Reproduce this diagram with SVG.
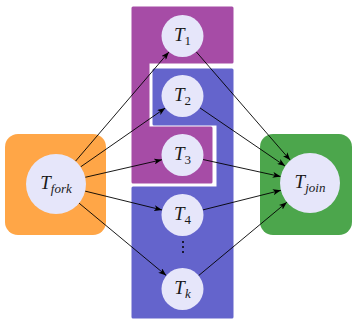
<svg xmlns="http://www.w3.org/2000/svg" width="352" height="320" viewBox="0 0 352 320">
<style>
.n{fill:#E6E6FA;stroke:none}
.t{font-family:"Liberation Serif","DejaVu Serif",serif;font-style:italic;font-size:19px;fill:#1a1a1a;text-anchor:middle}
.s{font-size:13px}
.d{font-style:normal}
.e{stroke:#000;stroke-width:0.9;fill:none;marker-end:url(#ah)}
</style>
<defs>
<marker id="ah" markerWidth="8" markerHeight="6" refX="8" refY="3" orient="auto" markerUnits="userSpaceOnUse">
<path d="M0,0 L8,3 L0,6 L2,3 z" fill="#000"/>
</marker>
</defs>
<g id="groups">
<rect id="fork-box" x="5" y="134" width="101" height="101" rx="13" fill="#FFA647"/>
<rect id="join-box" x="260" y="134" width="92" height="101" rx="13" fill="#4CA64C"/>
<path id="purple-box" d="M133,8 L232,8 L232,62 L148,62 L148,128 L211,128 L211,182 L133,182 Z" fill="#A64CA6" stroke="#A64CA6" stroke-width="3" stroke-linejoin="round"/>
<path id="blue-box" d="M154,70 L232,70 L232,317 L133,317 L133,188 L218,188 L218,124 L154,124 Z" fill="#6464CC" stroke="#6464CC" stroke-width="3" stroke-linejoin="round"/>
</g>
<g id="connectors">
<line class="e" x1="75.5" y1="161.2" x2="168.9" y2="52.0"/>
<line class="e" x1="80.6" y1="166.9" x2="165.3" y2="108.0"/>
<line class="e" x1="85.2" y1="177.3" x2="162.0" y2="159.7"/>
<line class="e" x1="85.1" y1="191.1" x2="162.1" y2="210.0"/>
<line class="e" x1="79.1" y1="203.2" x2="166.3" y2="275.6"/>
<line class="e" x1="196.3" y1="51.9" x2="290.3" y2="160.3"/>
<line class="e" x1="199.8" y1="107.8" x2="285.2" y2="166.1"/>
<line class="e" x1="203.0" y1="159.5" x2="280.7" y2="176.6"/>
<line class="e" x1="202.9" y1="209.9" x2="280.9" y2="190.3"/>
<line class="e" x1="198.6" y1="275.6" x2="286.9" y2="202.2"/>
</g>
<g id="fork"><circle class="n" cx="56" cy="184" r="30"/><text class="t" x="56" y="189">T<tspan class="s" dy="4">fork</tspan></text></g>
<g id="join"><circle class="n" cx="310" cy="183" r="30"/><text class="t" x="310" y="188">T<tspan class="s" dy="4">join</tspan></text></g>
<g id="t1"><circle class="n" cx="182.5" cy="36" r="21"/><text class="t" x="182.5" y="41">T<tspan class="s d" dy="4">1</tspan></text></g>
<g id="t2"><circle class="n" cx="182.5" cy="96" r="21"/><text class="t" x="182.5" y="101">T<tspan class="s d" dy="4">2</tspan></text></g>
<g id="t3"><circle class="n" cx="182.5" cy="155" r="21"/><text class="t" x="182.5" y="160">T<tspan class="s d" dy="4">3</tspan></text></g>
<g id="t4"><circle class="n" cx="182.5" cy="215" r="21"/><text class="t" x="182.5" y="220">T<tspan class="s d" dy="4">4</tspan></text></g>
<g id="tk"><circle class="n" cx="182.5" cy="289" r="21"/><text class="t" x="182.5" y="294">T<tspan class="s" dy="4">k</tspan></text></g>
<g id="dots" fill="#000"><circle cx="183" cy="242" r="1"/><circle cx="183" cy="247" r="1"/><circle cx="183" cy="252" r="1"/></g>
</svg>
